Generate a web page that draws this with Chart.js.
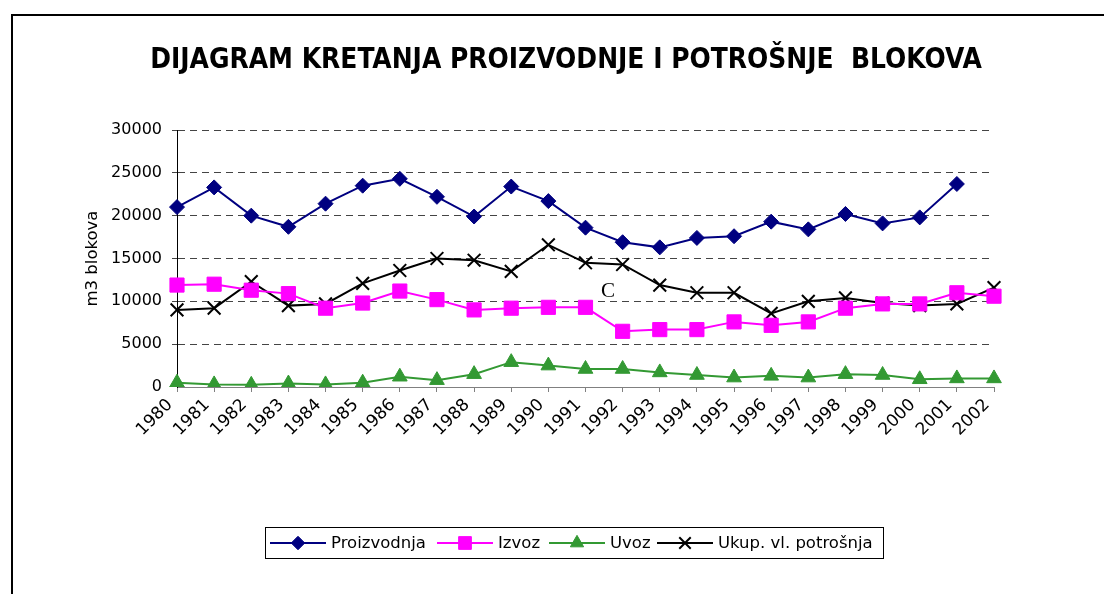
<!DOCTYPE html>
<html>
<head>
<meta charset="utf-8">
<script src="https://cdn.jsdelivr.net/npm/chart.js@4/dist/chart.umd.min.js"></script>
<style>
  html, body { margin: 0; padding: 0; background: #fff; overflow: hidden; }
  #frame { position: absolute; left: 11px; top: 14px; width: 1300px; height: 800px;
           border-left: 2px solid #000; border-top: 2px solid #000; }
  #wrap { position: absolute; left: 0; top: 0; width: 1104px; height: 594px; }
  #note { position: absolute; left: 601px; top: 278px; font-family: "Liberation Serif", serif;
          font-size: 21px; color: #000; }
</style>
</head>
<body>
<div id="frame"></div>
<div id="wrap"><canvas id="c" width="1104" height="594"></canvas></div>
<div id="note">C</div>
<script>
const years = ['1980','1981','1982','1983','1984','1985','1986','1987','1988','1989','1990','1991',
               '1992','1993','1994','1995','1996','1997','1998','1999','2000','2001','2002'];
const proizvodnja = [21000,23300,20000,18700,21400,23500,24300,22200,19900,23400,21700,18600,
                     16900,16300,17400,17600,19300,18400,20200,19100,19800,23700,null];
const izvoz = [11900,12000,11300,10900,9200,9800,11200,10200,9000,9200,9300,9300,
               6500,6700,6700,7600,7200,7600,9200,9700,9700,11000,10600];
const uvoz = [500,300,250,400,300,500,1200,800,1500,2900,2500,2100,
              2100,1700,1400,1100,1300,1100,1500,1400,900,1000,1000];
const ukupno = [9000,9200,12300,9500,9700,12100,13600,15000,14800,13500,16600,14500,
                14300,11900,11000,11000,8600,10000,10400,9800,9500,9700,11600];
const yTicks = [0,5000,10000,15000,20000,25000,30000];
const seriesNames = ['Proizvodnja','Izvoz','Uvoz','Ukup. vl. potrošnja'];
const titleText = 'DIJAGRAM KRETANJA PROIZVODNJE I POTROŠNJE  BLOKOVA';
const yTitle = 'm3 blokova';

const FONT = '"DejaVu Sans", Verdana, sans-serif';

const shiftTitle = {
  id: 'shiftTitle',
  afterLayout(chart) {
    const t = chart.titleBlock;
    if (t) { t.left += 29; t.right += 29; }
  }
};

const boxLegend = {
  id: 'boxLegend',
  afterDraw(chart) {
    const ctx = chart.ctx;
    const left = 265, top = 527, right = 883, bottom = 558;
    ctx.save();
    ctx.strokeStyle = '#000';
    ctx.lineWidth = 1;
    ctx.strokeRect(left + 0.5, top + 0.5, right - left, bottom - top);
    const starts = [270, 437, 549, 657];
    const cy = (top + bottom) / 2 + 0.5;
    ctx.font = '16.5px ' + FONT;
    ctx.textBaseline = 'middle';
    chart.data.datasets.forEach((ds, i) => {
      const x0 = starts[i];
      ctx.strokeStyle = ds.borderColor;
      ctx.lineWidth = ds.borderWidth;
      ctx.beginPath();
      ctx.moveTo(x0, cy);
      ctx.lineTo(x0 + 56, cy);
      ctx.stroke();
      ctx.fillStyle = ds.pointBackgroundColor;
      ctx.strokeStyle = ds.pointBorderColor;
      ctx.lineWidth = ds.pointBorderWidth;
      Chart.helpers.drawPoint(ctx, {
        pointStyle: ds.pointStyle, rotation: 0,
        radius: ds.pointRadius * 0.9, borderWidth: ds.pointBorderWidth
      }, x0 + 28, cy);
      ctx.fillStyle = '#000';
      ctx.fillText(ds.label, x0 + 61, cy + 1);
    });
    ctx.restore();
  }
};

new Chart(document.getElementById('c'), {
  type: 'line',
  data: {
    labels: years,
    datasets: [
      { label: seriesNames[0], data: proizvodnja, borderColor: '#000080', borderWidth: 2,
        pointStyle: 'rectRot', pointRadius: 7.5, pointBackgroundColor: '#000080',
        pointBorderColor: '#000080', pointBorderWidth: 1, tension: 0 },
      { label: seriesNames[1], data: izvoz, borderColor: '#FF00FF', borderWidth: 2,
        pointStyle: 'rect', pointRadius: 10, pointBackgroundColor: '#FF00FF',
        pointBorderColor: '#FF00FF', pointBorderWidth: 1, tension: 0 },
      { label: seriesNames[2], data: uvoz, borderColor: '#339933', borderWidth: 2,
        pointStyle: 'triangle', pointRadius: 8.5, pointBackgroundColor: '#339933',
        pointBorderColor: '#339933', pointBorderWidth: 1, tension: 0 },
      { label: seriesNames[3], data: ukupno, borderColor: '#000000', borderWidth: 2,
        pointStyle: 'crossRot', pointRadius: 9, pointBackgroundColor: '#000000',
        pointBorderColor: '#000000', pointBorderWidth: 2, tension: 0 }
    ]
  },
  options: {
    responsive: false,
    animation: false,
    layout: { padding: { left: 80, right: 110, top: 0, bottom: 0 } },
    plugins: {
      legend: { display: false },
      tooltip: { enabled: false },
      title: {
        display: true, text: titleText, color: '#000',
        font: { family: '"DejaVu Sans Condensed", "DejaVu Sans", sans-serif', size: 27.8, weight: 'bold', lineHeight: 1.2 },
        padding: { top: 44, bottom: 52.64 }
      }
    },
    scales: {
      x: {
        offset: false,
        grid: { display: true, drawOnChartArea: false, drawTicks: true, tickLength: 5, color: '#808080' },
        border: { display: true, color: '#808080', width: 1 },
        ticks: { color: '#000', font: { family: FONT, size: 17 }, minRotation: 45, maxRotation: 45,
                 autoSkip: false, padding: 3, labelOffset: -7 },
        afterFit(scale) { scale.height = 207; }
      },
      y: {
        min: 0, max: 30000,
        afterBuildTicks(scale) { scale.ticks = yTicks.map(v => ({ value: v })); },
        grid: {
          color: (c) => (c.tick && c.tick.value === 0) ? 'rgba(0,0,0,0)' : '#444',
          lineWidth: 1, tickLength: 5, drawTicks: true
        },
        border: { display: true, color: '#000', width: 1, dash: [7,5] },
        ticks: { color: '#000', font: { family: FONT, size: 16 }, padding: 10,
                 callback: (v) => String(v) },
        title: { display: true, text: yTitle, color: '#000',
                 font: { family: FONT, size: 16.5 }, padding: { top: 3, bottom: 0 } },
        afterFit(scale) { scale.width = 97; }
      }
    }
  },
  plugins: [shiftTitle, boxLegend]
});
</script>
</body>
</html>
